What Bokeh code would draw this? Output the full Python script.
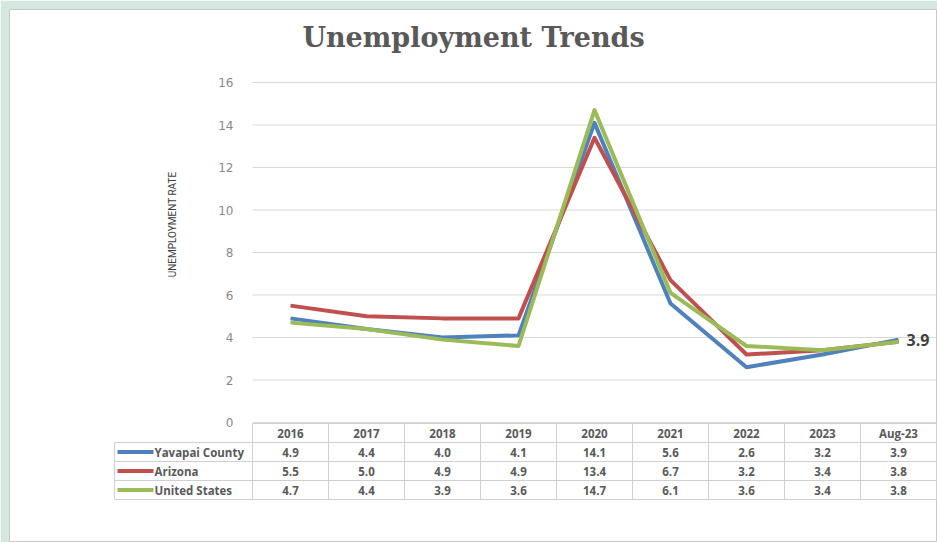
import math
from bokeh.plotting import figure
from bokeh.models import Range1d, LinearAxis, FixedTicker
from bokeh.core.properties import value
from bokeh.embed import file_html
from bokeh.resources import INLINE

# ---------------- data ----------------
categories = ["2016", "2017", "2018", "2019", "2020", "2021", "2022", "2023", "Aug-23"]
yavapai = [4.9, 4.4, 4.0, 4.1, 14.1, 5.6, 2.6, 3.2, 3.9]
arizona = [5.5, 5.0, 4.9, 4.9, 13.4, 6.7, 3.2, 3.4, 3.8]
united_states = [4.7, 4.4, 3.9, 3.6, 14.7, 6.1, 3.6, 3.4, 3.8]
series_names = ["Yavapai County", "Arizona", "United States"]
y_ticks = [0, 2, 4, 6, 8, 10, 12, 14, 16]
title_text = "Unemployment Trends"
y_axis_label = "UNEMPLOYMENT RATE"

# ---------------- geometry (pixels) ----------------
W, H = 937, 542
LEFT, TOP = 9, 9
X0, DX = 290.0, 76.0     # pixel of first category centre, category step
Y0, DY = 422.0, 21.25    # pixel of value 0, pixels per unit


def dx(px):
    return (px - X0) / DX


def dy(py):
    return (Y0 - py) / DY


colors = ["#4f81bd", "#c0504d", "#9bbb59"]
series = [yavapai, arizona, united_states]
n = len(categories)
xs = list(range(n))

p = figure(width=W, height=H,
           x_range=Range1d(dx(LEFT), dx(W)), y_range=Range1d(dy(H), dy(TOP)),
           min_border_left=LEFT, min_border_top=TOP, min_border_right=0, min_border_bottom=0,
           x_axis_location=None, y_axis_location=None,
           toolbar_location=None, output_backend="svg",
           background_fill_color="white", border_fill_color="#d5e8df",
           outline_line_color="#c8c8c8")
p.xgrid.visible = False
p.ygrid.visible = False

# gridlines
p.segment(x0=-0.5, x1=n - 0.5, y0=y_ticks, y1=y_ticks, line_color="#d9d9d9", line_width=1)

# y axis at the plot-area's left edge
yax = LinearAxis(fixed_location=-0.5, ticker=FixedTicker(ticks=y_ticks),
                 axis_line_color=None, major_tick_line_color=None, minor_tick_line_color=None,
                 major_label_standoff=13, major_label_text_font_size="12px",
                 major_label_text_color="#8a8a8a", major_label_text_font="DejaVu Sans")
p.add_layout(yax, "left")

# axis title
p.text(x=[dx(172)], y=[dy(224)], text=[y_axis_label], angle=math.pi / 2,
       text_align="center", text_baseline="middle",
       text_font=value("Roboto"), text_font_size="10px", text_color="#404040")

# chart title
p.text(x=[dx(473)], y=[dy(37)], text=[title_text], text_align="center", text_baseline="middle",
       text_font=value("DejaVu Serif"), text_font_style="bold", text_font_size="27px",
       text_color="#595959")

# lines
for vals, c in zip(series, colors):
    p.line(xs, vals, line_color=c, line_width=4, line_join="round")

# data label on last Yavapai point
p.text(x=[xs[-1]], y=[yavapai[-1]], text=[f"{yavapai[-1]:.1f}"], x_offset=8,
       text_baseline="middle", text_font=value("Open Sans"), text_font_style="bold",
       text_font_size="16px", text_color="#404040")

# ---------------- data table ----------------
ROW_PX = 19.0
TABLE_TOP = 423.0
TABLE_LEFT = 114.0
bounds_px = [TABLE_TOP + i * ROW_PX for i in range(5)]
centers_px = [b + ROW_PX / 2 for b in bounds_px[:4]]
grid_c = "#d0d0d0"

# horizontal lines
p.segment(x0=-0.5, x1=n - 0.5, y0=dy(bounds_px[0]), y1=dy(bounds_px[0]), line_color=grid_c)
p.segment(x0=dx(TABLE_LEFT), x1=n - 0.5, y0=[dy(b) for b in bounds_px[1:]],
          y1=[dy(b) for b in bounds_px[1:]], line_color=grid_c)
# vertical lines
vx = [i - 0.5 for i in range(n + 1)]
p.segment(x0=vx, x1=vx, y0=dy(bounds_px[0]), y1=dy(bounds_px[-1]), line_color=grid_c)
p.segment(x0=dx(TABLE_LEFT), x1=dx(TABLE_LEFT), y0=dy(bounds_px[1]), y1=dy(bounds_px[-1]),
          line_color=grid_c)

tfont = value("Open Sans")
tcol = "#595959"
# header
p.text(x=xs, y=[dy(centers_px[0])] * n, text=categories, text_align="center",
       text_baseline="middle", text_font=tfont, text_font_style="bold",
       text_font_size="11.5px", text_color=tcol)
# rows
for r, (vals, c, name) in enumerate(zip(series, colors, series_names)):
    yc = dy(centers_px[r + 1])
    p.text(x=xs, y=[yc] * n, text=[f"{v:.1f}" for v in vals], text_align="center",
           text_baseline="middle", text_font=tfont, text_font_style="bold",
           text_font_size="11.5px", text_color=tcol)
    p.segment(x0=[dx(117)], x1=[dx(153)], y0=[yc], y1=[yc], line_color=c, line_width=4)
    p.text(x=[dx(154)], y=[yc], text=[name], text_align="left", text_baseline="middle",
           text_font=tfont, text_font_style="bold", text_font_size="11.5px", text_color=tcol)

open("out.html", "w").write(file_html(p, INLINE))
